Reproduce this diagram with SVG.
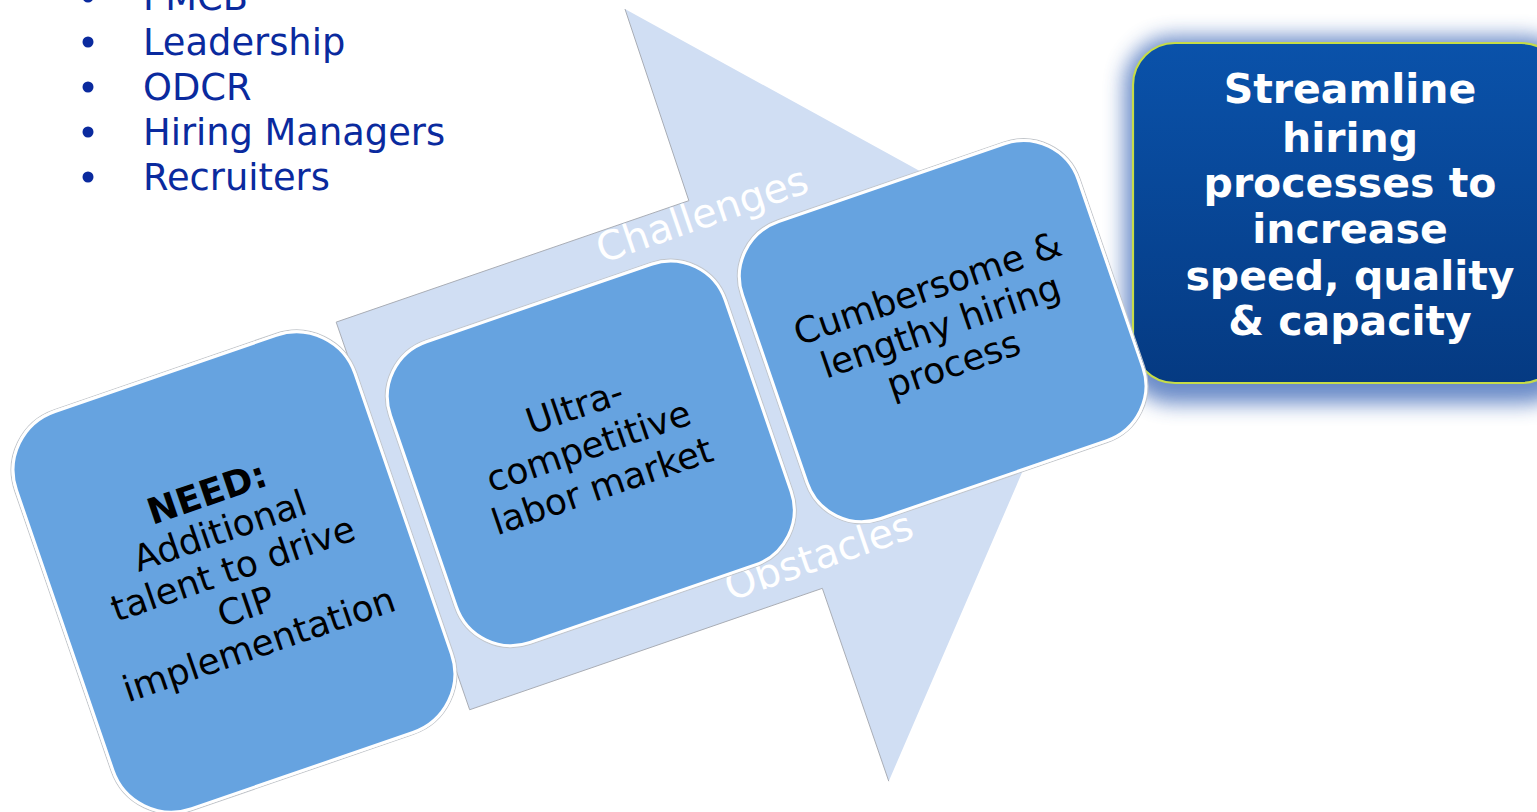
<svg xmlns="http://www.w3.org/2000/svg" width="1537" height="812" viewBox="0 0 1537 812">
  <defs>
    <style>
      .bullet-text{font-family:"DejaVu Sans",Verdana,sans-serif;font-size:36.8px;fill:#0a2a9e}
      .dot{fill:#0a2a9e}
      .arrow{fill:#d0def3}
      .arrow-edge{fill:none;stroke:#a9adb5;stroke-width:0.9}
      .card-halo{fill:none;stroke:#c2c6cb;stroke-width:1}
      .card{fill:#66a3e0;stroke:#ffffff;stroke-width:3}
      .card-text{font-family:"DejaVu Sans",Verdana,sans-serif;font-size:36px;fill:#000;text-anchor:middle}
      .band-text{font-family:"DejaVu Sans",Verdana,sans-serif;font-size:40px;fill:#ffffff;text-anchor:middle}
      .goal-text{font-family:"DejaVu Sans",Verdana,sans-serif;font-weight:bold;font-size:41px;fill:#ffffff;text-anchor:middle}
    </style>
    <linearGradient id="goalFill" x1="0" y1="0" x2="0" y2="1">
      <stop offset="0" stop-color="#0a52aa"/>
      <stop offset="1" stop-color="#053a82"/>
    </linearGradient>
    <filter id="glow" x="-20%" y="-20%" width="140%" height="140%">
      <feGaussianBlur stdDeviation="10"/>
    </filter>
  </defs>

  <!-- stakeholder list -->
  <g id="stakeholders">
    <circle class="dot" cx="88" cy="-3" r="5.5"/>
    <text class="bullet-text" x="143" y="10">PMCB</text>
    <circle class="dot" cx="88" cy="42" r="5.5"/>
    <text class="bullet-text" x="143" y="55">Leadership</text>
    <circle class="dot" cx="88" cy="87" r="5.5"/>
    <text class="bullet-text" x="143" y="100">ODCR</text>
    <circle class="dot" cx="88" cy="132" r="5.5"/>
    <text class="bullet-text" x="143" y="145">Hiring Managers</text>
    <circle class="dot" cx="88" cy="177" r="5.5"/>
    <text class="bullet-text" x="143" y="190">Recruiters</text>
  </g>

  <!-- goal box with soft blue glow -->
  <g id="goal">
    <rect x="1124" y="36" width="450" height="368" rx="50" fill="#5b80c3" opacity="0.9" filter="url(#glow)"/>
    <rect x="1133" y="43" width="430" height="340" rx="42" fill="url(#goalFill)" stroke="#c6dc48" stroke-width="2.2"/>
    <text class="goal-text" x="1350" y="103">Streamline</text>
    <text class="goal-text" x="1350" y="152">hiring</text>
    <text class="goal-text" x="1350" y="197">processes to</text>
    <text class="goal-text" x="1350" y="243">increase</text>
    <text class="goal-text" x="1350" y="290">speed, quality</text>
    <text class="goal-text" x="1350" y="335">&amp; capacity</text>
  </g>

  <!-- tilted process flow: everything below is laid out along the arrow axis -->
  <g transform="rotate(-19)">
    <g id="connectors">
      <g id="flow-arrow">
        <polygon class="arrow" points="213,414 586,414 588,212 958,620 586,1028 586,824 213,824"/>
        <polyline class="arrow-edge" points="588,212 586,414 213,414 213,824 586,824 586,1028"/>
        <text class="band-text" x="594" y="445">Challenges</text>
        <text class="band-text" x="593" y="806">Obstacles</text>
      </g>
    </g>

    <g id="need">
      <rect class="card-halo" x="-146" y="405" width="362" height="424" rx="64"/>
      <rect class="card" x="-144" y="407" width="358" height="420" rx="62"/>
      <text class="card-text" x="35" y="546" font-weight="bold">NEED:</text>
      <text class="card-text" x="35" y="586">Additional</text>
      <text class="card-text" x="35" y="626">talent to drive</text>
      <text class="card-text" x="35" y="666">CIP</text>
      <text class="card-text" x="35" y="706">implementation</text>
    </g>

    <g id="labor-market">
      <rect class="card-halo" x="232" y="460" width="358" height="322" rx="60"/>
      <rect class="card" x="234" y="462" width="354" height="318" rx="58"/>
      <text class="card-text" x="411" y="584">Ultra-</text>
      <text class="card-text" x="411" y="626">competitive</text>
      <text class="card-text" x="411" y="668">labor market</text>
    </g>

    <g id="hiring-process">
      <rect class="card-halo" x="604" y="461" width="359" height="318" rx="60"/>
      <rect class="card" x="606" y="463" width="355" height="314" rx="58"/>
      <text class="card-text" x="783" y="587">Cumbersome &amp;</text>
      <text class="card-text" x="783" y="627">lengthy hiring</text>
      <text class="card-text" x="783" y="667">process</text>
    </g>
  </g>
</svg>
